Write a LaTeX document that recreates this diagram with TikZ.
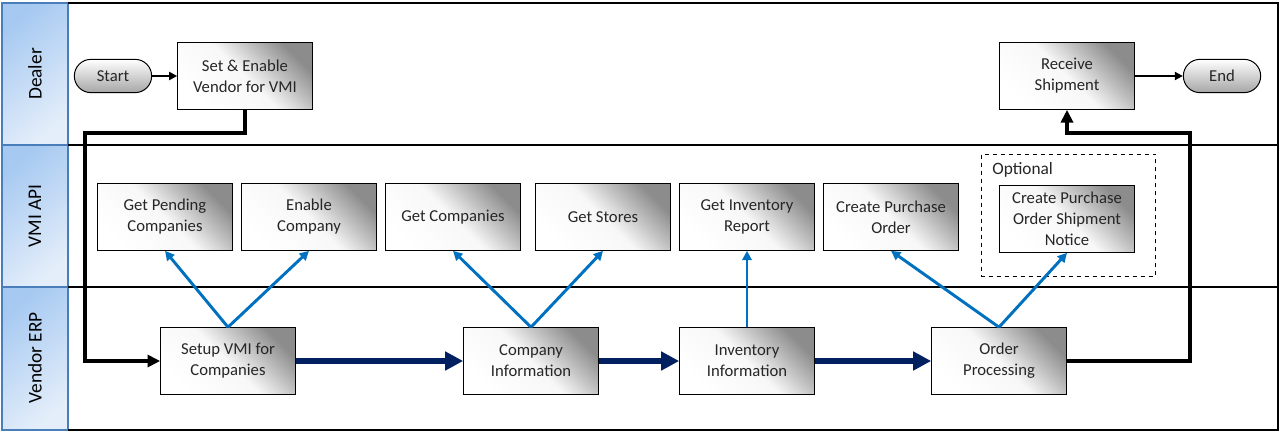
\documentclass[tikz,border=0pt]{standalone}
\usepackage{fontspec}
\setmainfont{Carlito}
\usetikzlibrary{arrows.meta}
\definecolor{hdrA}{HTML}{A6C9F1}
\definecolor{hdrB}{HTML}{E4EEFA}
\definecolor{hdrline}{HTML}{4A7EBB}
\definecolor{apiblue}{HTML}{0070C0}
\definecolor{navy}{HTML}{002060}
\definecolor{txt}{HTML}{262626}
\tikzset{
  lanehead/.style={draw=hdrline, line width=0.9pt, top color=hdrA, bottom color=hdrB, shading angle=40},
  lanelabel/.style={rotate=90, text=black, font=\fontsize{14.5}{17}\selectfont},
  task/.style={draw, line width=0.75pt, top color=black!45, bottom color=white, middle color=black!3, shading angle=-45,
    minimum width=101pt, minimum height=50pt, align=center, text=txt, inner sep=2pt,
    font=\fontsize{12.5}{15.7}\selectfont},
  terminal/.style={draw, line width=0.75pt, rounded corners=12.5pt, top color=white, bottom color=black!35,
    minimum width=58pt, minimum height=25pt, text=txt, font=\fontsize{12.5}{15.7}\selectfont},
  flow/.style={line width=3pt, -{Triangle[length=9.5pt,width=9pt]}},
  startflow/.style={line width=2pt, -{Triangle[length=6pt,width=6pt]}},
  mainflow/.style={navy, line width=5pt, -{Triangle[length=13.5pt,width=13.5pt]}},
  apicall/.style={apiblue, line width=2.2pt, -{Triangle[length=7pt,width=7pt]}},
}
\begin{document}
\begin{tikzpicture}[x=0.75pt, y=-0.75pt]
\useasboundingbox (0,0) rectangle (1280,432);
\shade[lanehead] (2,3) rectangle (68,145);
\shade[lanehead] (2,145) rectangle (68,287);
\shade[lanehead] (2,287) rectangle (68,430);
\draw[line width=0.9pt] (68,3) -- (1278,3) -- (1278,430) -- (68,430);
\draw[line width=0.9pt] (68,145) -- (1278,145);
\draw[line width=0.9pt] (68,287) -- (1278,287);
\node[lanelabel] (L_0) at (35,74) {Dealer};
\node[lanelabel] (L_1) at (35,216) {VMI API};
\node[lanelabel] (L_2) at (35,358) {Vendor ERP};
\node[terminal] (D_0) at (113,76) {Start};
\node[task] (D_1) at (245,76) {Set \& Enable\\Vendor for VMI};
\draw[startflow] (D_0) -- (D_1);
\node[task] (D_2) at (1067,76) {Receive\\Shipment};
\node[terminal] (D_3) at (1222,76) {End};
\draw[startflow] (D_2) -- (D_3);
\node[draw, dashed, line width=0.6pt, minimum width=131pt, minimum height=91.5pt] (OPT) at (1068.5,215) {};
\node[anchor=north west, inner sep=0pt, text=txt, font=\fontsize{13}{15}\selectfont] (OPT_label) at (992,162) {Optional};
\node[task] (A_0) at (165,217) {Get Pending\\Companies};
\node[task] (A_1) at (309,217) {Enable\\Company};
\node[task] (A_2) at (453,217) {Get Companies};
\node[task] (A_3) at (603,217) {Get Stores};
\node[task] (A_4) at (747,217) {Get Inventory\\Report};
\node[task] (A_5) at (891,217) {Create Purchase\\Order};
\node[task] (A_6) at (1067,219) {Create Purchase\\Order Shipment\\Notice};
\node[task] (E_0) at (228,361) {Setup VMI for\\Companies};
\node[task] (E_1) at (531,361) {Company\\Information};
\node[task] (E_2) at (747,361) {Inventory\\Information};
\node[task] (E_3) at (999,361) {Order\\Processing};
\coordinate (C_0) at (85,133);
\coordinate (C_1) at (1190,133);
\draw[flow] (D_1.south) |- (C_0) |- (E_0.west);
\draw[flow] (E_3.east) -| (C_1) -| (D_2.south);
\draw[mainflow] (E_0) -- (E_1);
\draw[mainflow] (E_1) -- (E_2);
\draw[mainflow] (E_2) -- (E_3);
\draw[apicall] (E_0.north) -- (A_0.south);
\draw[apicall] (E_0.north) -- (A_1.south);
\draw[apicall] (E_1.north) -- (A_2.south);
\draw[apicall] (E_1.north) -- (A_3.south);
\draw[apicall] (E_2.north) -- (A_4.south);
\draw[apicall] (E_3.north) -- (A_5.south);
\draw[apicall] (E_3.north) -- (A_6.south);
\end{tikzpicture}
\end{document}
